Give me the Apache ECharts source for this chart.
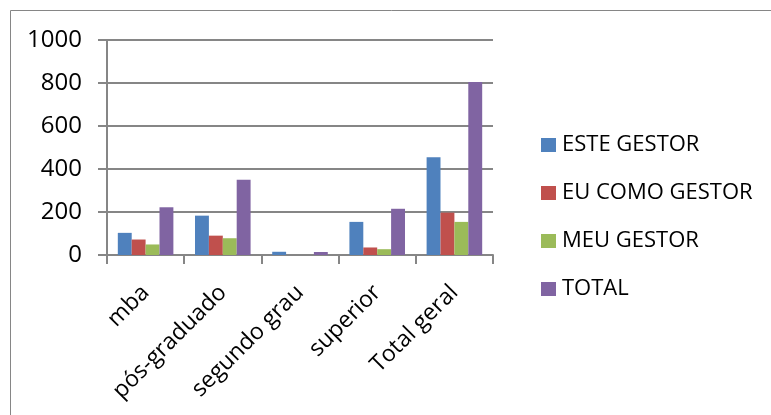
<!DOCTYPE html>
<html>
<head>
<meta charset="utf-8">
<script src="https://cdn.jsdelivr.net/npm/echarts@6/dist/echarts.min.js"></script>
<style>
  html, body { margin: 0; padding: 0; background: #fff; }
  #chart { width: 771px; height: 415px; }
</style>
</head>
<body>
<div id="chart"></div>
<script>
// Categories (education level) and counts per answer group
const categories = ['mba', 'pós-graduado', 'segundo grau', 'superior', 'Total geral'];
const esteGestor = [103, 183, 15, 154, 455];
const euComoGestor = [72, 90, 0, 35, 197];
const meuGestor = [49, 78, 0, 27, 154];
const total = [222, 350, 14, 215, 805];
const yTicks = { min: 0, max: 1000, interval: 200 };

const seriesNames = ['ESTE GESTOR', 'EU COMO GESTOR', 'MEU GESTOR', 'TOTAL'];
const seriesData = [esteGestor, euComoGestor, meuGestor, total];
const colors = ['#4F81BD', '#C0504D', '#9BBB59', '#8064A2'];

const chart = echarts.init(document.getElementById('chart'), null, { renderer: 'canvas' });
const font = '"Open Sans", sans-serif';

chart.setOption({
  animation: false,
  color: colors,
  graphic: [{
    type: 'rect',
    shape: { x: 10.5, y: 10.5, width: 800, height: 500 },
    style: { fill: 'none', stroke: '#868686', lineWidth: 1 },
    silent: true
  }],
  grid: { left: 107, right: 278, top: 40, bottom: 160 },
  legend: {
    orient: 'vertical',
    left: 536,
    top: 128,
    itemWidth: 15,
    itemHeight: 14,
    itemGap: 24,
    icon: 'rect',
    textStyle: { fontFamily: font, fontSize: 22, color: '#000', lineHeight: 24, padding: [0, 0, 0, 1] },
    data: seriesNames
  },
  xAxis: {
    type: 'category',
    data: categories,
    axisLine: { lineStyle: { color: '#868686', width: 2 } },
    axisTick: { show: true, length: 9, lineStyle: { color: '#868686', width: 2 } },
    axisLabel: { rotate: 45, margin: 34, fontFamily: font, fontSize: 23, color: '#000' }
  },
  yAxis: {
    type: 'value',
    min: yTicks.min,
    max: yTicks.max,
    interval: yTicks.interval,
    axisLine: { show: true, lineStyle: { color: '#868686', width: 2 } },
    axisTick: { show: true, inside: false, length: 9, lineStyle: { color: '#868686', width: 2 } },
    splitLine: { show: true, lineStyle: { color: '#868686', width: 2 } },
    axisLabel: { margin: 25, fontFamily: font, fontSize: 24, color: '#000', formatter: v => String(v) }
  },
  series: seriesNames.map((name, i) => ({
    name,
    type: 'bar',
    data: seriesData[i],
    barGap: '0%',
    barCategoryGap: '28%',
    itemStyle: { color: colors[i] }
  }))
});
</script>
</body>
</html>
